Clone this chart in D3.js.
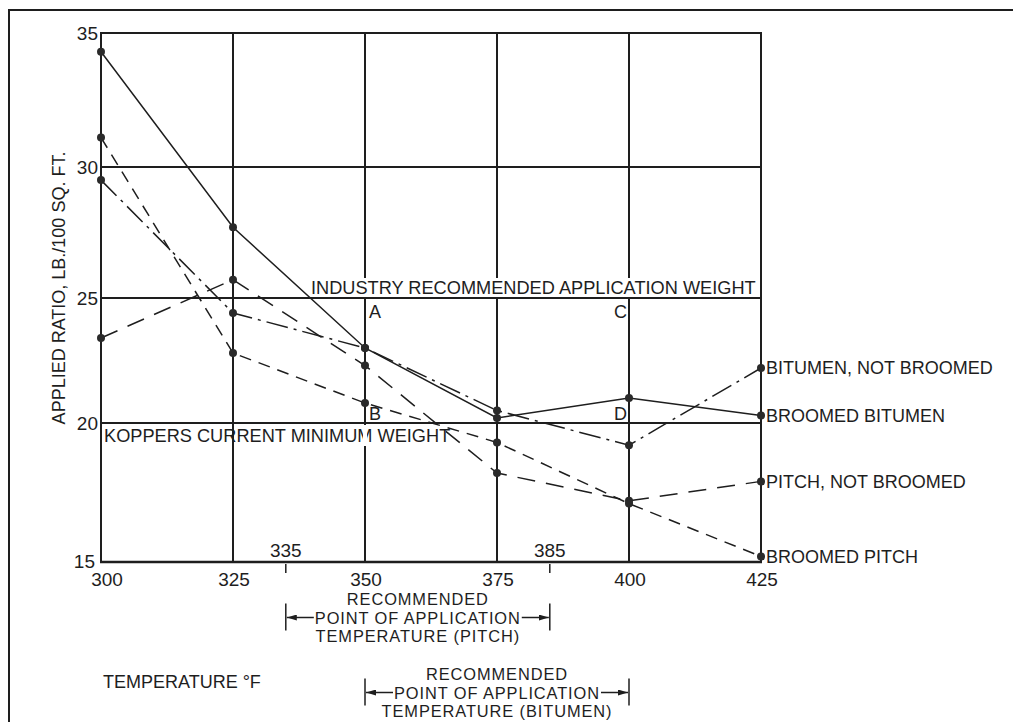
<!DOCTYPE html>
<html>
<head>
<meta charset="utf-8">
<script src="https://cdn.jsdelivr.net/npm/d3@7"></script>
<style>
  html, body { margin: 0; padding: 0; background: #fff; }
  svg { display: block; }
  text { font-family: "Liberation Sans", Arial, Helvetica, sans-serif; fill: #1e1e1e; }
</style>
</head>
<body>
<svg id="chart" width="1013" height="722"></svg>
<script>
// ---- data ----
const temperatures = [300, 325, 350, 375, 400, 425];
const broomedBitumen    = [34.3, 27.7, 23.0, 20.2, 21.0, 20.3];
const bitumenNotBroomed = [29.5, 24.4, 23.0, 20.5, 19.2, 22.2];
const pitchNotBroomed   = [23.4, 25.7, 22.3, 18.2, 17.2, 17.9];
const broomedPitch      = [31.1, 22.8, 20.8, 19.3, 17.1, 15.2];
const seriesLabels = ["BROOMED BITUMEN", "BITUMEN, NOT BROOMED", "PITCH, NOT BROOMED", "BROOMED PITCH"];
const yTickValues = [15, 20, 25, 30, 35];
const xTickValues = [300, 325, 350, 375, 400, 425];
const pitchRange = [335, 385];
const bitumenRange = [350, 400];
const industryWeight = 25;
const koppersWeight = 20;
const pointLetters = [
  {t: "A", x: 350, y: industryWeight},
  {t: "C", x: 400, y: industryWeight},
  {t: "B", x: 350, y: koppersWeight},
  {t: "D", x: 400, y: koppersWeight}
];

// ---- layout ----
const svg = d3.select("#chart");
const ink = "#1e1e1e";
const x = d3.scaleLinear().domain([300, 425]).range([101, 761]);
// the printed grid is slightly uneven; map each gridline to where it is drawn
const y = d3.scaleLinear().domain(yTickValues).range([562, 423, 298, 167, 33]);

// outer frame
svg.append("rect").attr("x", 9).attr("y", 10).attr("width", 1100).attr("height", 800)
  .attr("fill", "none").attr("stroke", ink).attr("stroke-width", 2);

// grid
const grid = svg.append("g");
grid.selectAll("line.v").data(xTickValues).join("line")
  .attr("x1", d => x(d)).attr("x2", d => x(d))
  .attr("y1", y(35)).attr("y2", y(15))
  .attr("stroke", ink).attr("stroke-width", 2);
grid.selectAll("line.h").data(yTickValues).join("line")
  .attr("x1", x(300) - 1).attr("x2", x(425) + 1)
  .attr("y1", d => y(d)).attr("y2", d => y(d))
  .attr("stroke", ink).attr("stroke-width", d => d === 15 ? 2.5 : 2);

// y tick labels
svg.selectAll("text.ytick").data(yTickValues).join("text")
  .attr("class", "ytick")
  .attr("x", d => d === 15 ? 95 : 98)
  .attr("y", d => d === 15 ? y(d) + 6 : y(d))
  .attr("dy", d => d === 15 ? 0 : "0.36em")
  .attr("text-anchor", "end")
  .attr("font-size", 19)
  .text(d => d);

// x tick labels
svg.selectAll("text.xtick").data(xTickValues).join("text")
  .attr("class", "xtick")
  .attr("x", d => x(d) + (d === 300 ? 6 : 1))
  .attr("y", 586)
  .attr("text-anchor", "middle")
  .attr("font-size", 19)
  .text(d => d);

// range ticks 335 / 385
const rangeTicks = [pitchRange[0], pitchRange[1]];
svg.selectAll("line.rt").data(rangeTicks).join("line")
  .attr("x1", d => x(d)).attr("x2", d => x(d))
  .attr("y1", y(15) + 2).attr("y2", y(15) + 11)
  .attr("stroke", ink).attr("stroke-width", 1.5);
svg.selectAll("text.rt").data(rangeTicks).join("text")
  .attr("x", d => x(d)).attr("y", 557)
  .attr("text-anchor", "middle").attr("font-size", 19)
  .text(d => d);

// axis titles
svg.append("text")
  .attr("transform", `translate(65,${(148 + 428) / 2}) rotate(-90)`)
  .attr("text-anchor", "middle").attr("font-size", 18)
  .text("APPLIED RATIO, LB./100 SQ. FT.");
svg.append("text").attr("x", 103).attr("y", 688).attr("font-size", 18)
  .text("TEMPERATURE °F");

// reference line labels
const ind = svg.append("text").attr("x", 311).attr("y", y(industryWeight) - 4)
  .attr("font-size", 18.2).text("INDUSTRY RECOMMENDED APPLICATION WEIGHT");
const bb = ind.node().getBBox();
svg.insert("rect", "text").attr("x", bb.x - 2).attr("y", bb.y).attr("width", bb.width + 4)
  .attr("height", y(industryWeight) - 1 - bb.y).attr("fill", "#fff");
ind.raise();
svg.append("text").attr("x", 104).attr("y", y(koppersWeight) + 19)
  .attr("font-size", 18.2).text("KOPPERS CURRENT MINIMUM WEIGHT");
// small gap in 350 gridline behind the label
svg.append("rect").attr("x", x(350) - 2).attr("y", y(koppersWeight) + 2)
  .attr("width", 4).attr("height", 21).attr("fill", "#fff");

// letters A B C D
svg.selectAll("text.letter").data(pointLetters).join("text")
  .attr("x", d => d.t === "A" || d.t === "B" ? x(d.x) + 4 : x(d.x) - 15)
  .attr("y", d => d.y === industryWeight ? y(d.y) + 20 : y(d.y) - 3)
  .attr("font-size", 18)
  .text(d => d.t);

// range brackets
const defs = svg.append("defs");
defs.append("marker").attr("id", "arr").attr("viewBox", "0 0 10 6")
  .attr("refX", 10).attr("refY", 3).attr("markerWidth", 10).attr("markerHeight", 6)
  .attr("markerUnits", "userSpaceOnUse").attr("orient", "auto")
  .append("path").attr("d", "M0,0 L10,3 L0,6 Z").attr("fill", ink);

function bracket(range, firstBaseline, textLines) {
  const g = svg.append("g");
  const x0 = x(range[0]), x1 = x(range[1]);
  const cx = (x0 + x1) / 2;
  const pitch = 18.5;
  const ay = firstBaseline + pitch - 6;
  g.selectAll("line.bar").data([x0, x1]).join("line")
    .attr("x1", d => d).attr("x2", d => d)
    .attr("y1", ay - 14).attr("y2", ay + 13)
    .attr("stroke", ink).attr("stroke-width", 1.5);
  const tl = g.selectAll("text").data(textLines).join("text")
    .attr("x", cx).attr("y", (d, i) => firstBaseline + i * pitch)
    .attr("text-anchor", "middle").attr("font-size", 16.4)
    .attr("letter-spacing", 0.9)
    .text(d => d);
  const mid = tl.nodes()[1].getBBox();
  g.append("line").attr("x1", mid.x - 1).attr("x2", x0 + 1).attr("y1", ay).attr("y2", ay)
    .attr("stroke", ink).attr("stroke-width", 1.5).attr("marker-end", "url(#arr)");
  g.append("line").attr("x1", mid.x + mid.width + 1).attr("x2", x1 - 1).attr("y1", ay).attr("y2", ay)
    .attr("stroke", ink).attr("stroke-width", 1.5).attr("marker-end", "url(#arr)");
}
bracket(pitchRange, 605, ["RECOMMENDED", "POINT OF APPLICATION", "TEMPERATURE (PITCH)"]);
bracket(bitumenRange, 680, ["RECOMMENDED", "POINT OF APPLICATION", "TEMPERATURE (BITUMEN)"]);

// series
const series = [
  {name: seriesLabels[0], values: broomedBitumen, dash: null},
  {name: seriesLabels[1], values: bitumenNotBroomed, dash: "22,6,3,6"},
  {name: seriesLabels[2], values: pitchNotBroomed, dash: "18,11"},
  {name: seriesLabels[3], values: broomedPitch, dash: "12,8"}
];
const line = d3.line().x(d => x(d[0])).y(d => y(d[1]));
const sg = svg.append("g");
series.forEach(s => {
  const pts = temperatures.map((t, i) => [t, s.values[i]]);
  sg.append("path").attr("d", line(pts)).attr("fill", "none")
    .attr("stroke", ink).attr("stroke-width", 1.5)
    .attr("stroke-dasharray", s.dash);
  sg.selectAll(null).data(pts).join("circle")
    .attr("cx", d => x(d[0])).attr("cy", d => y(d[1])).attr("r", 4)
    .attr("fill", "#2a2a2a");
  const last = pts[pts.length - 1];
  sg.append("text").attr("x", x(last[0]) + 5).attr("y", y(last[1]))
    .attr("dy", "0.36em").attr("font-size", 18).text(s.name);
});
</script>
</body>
</html>
